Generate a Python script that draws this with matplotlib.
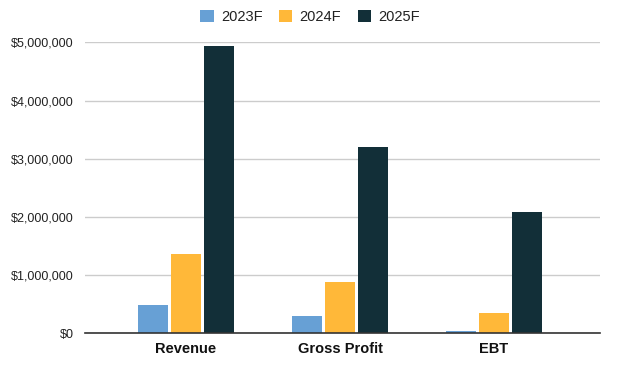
import matplotlib
matplotlib.use("Agg")
import matplotlib.pyplot as plt
import numpy as np
from matplotlib.ticker import FuncFormatter

categories = ["Revenue", "Gross Profit", "EBT"]
series_names = ["2023F", "2024F", "2025F"]
v2023 = [480000, 300000, 40000]
v2024 = [1357000, 876000, 344000]
v2025 = [4940000, 3196000, 2085000]
colors = ["#67a0d5", "#ffb839", "#122f38"]

plt.rcParams['font.family'] = ['Liberation Sans', 'DejaVu Sans']

fig = plt.figure(figsize=(6.2, 3.69), dpi=100)
ax = fig.add_axes([85/620, 1-333.3/369, 515/620, 291/369])

x = np.arange(len(categories))
w = 0.2
off = 0.214
for i, (vals, name, c) in enumerate(zip([v2023, v2024, v2025], series_names, colors)):
    ax.bar(x + (i-1)*off, vals, width=w, color=c, label=name, zorder=3)

ax.set_ylim(0, 5000000)
ax.set_yticks(np.arange(0, 5000001, 1000000))
ax.yaxis.set_major_formatter(FuncFormatter(lambda v, p: "${:,.0f}".format(v)))
ax.set_xlim(-0.656, 2.688)
ax.set_xticks(x)
ax.set_xticklabels(categories, fontweight='bold', fontsize=10.5)
ax.grid(axis='y', color='#cccccc', linewidth=1, zorder=0)
for s in ['top', 'right', 'left']:
    ax.spines[s].set_visible(False)
ax.spines['bottom'].set_color('#333333')
ax.spines['bottom'].set_linewidth(1.2)
ax.spines['bottom'].set_zorder(4)
ax.tick_params(axis='both', length=0)
ax.tick_params(axis='y', labelsize=9, colors='#222222', pad=8)
ax.tick_params(axis='x', pad=6, colors='#111111')

leg = fig.legend(loc='center', bbox_to_anchor=(0.5, 1 - 16.7/369), ncol=3, frameon=False,
                 fontsize=10.5, handlelength=0.9, handleheight=0.9, columnspacing=1.13,
                 handletextpad=0.5, borderpad=0, borderaxespad=0)
for t in leg.get_texts():
    t.set_color('#222222')

fig.savefig("out.png", dpi=100)
